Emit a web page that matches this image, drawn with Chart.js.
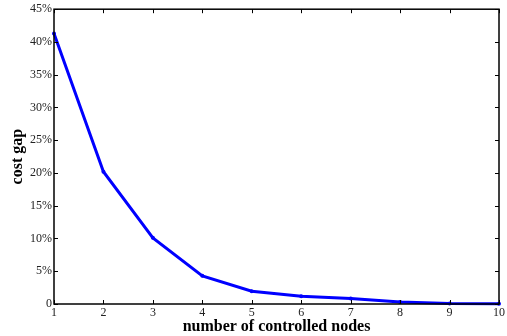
<!DOCTYPE html>
<html>
<head>
<meta charset="utf-8">
<script src="https://cdn.jsdelivr.net/npm/chart.js@4/dist/chart.umd.min.js"></script>
<style>
  html, body { margin: 0; padding: 0; background: #fff; }
  #wrap { width: 507px; height: 336px; }
</style>
</head>
<body>
<div id="wrap"><canvas id="chart" width="507" height="336"></canvas></div>
<script>
// number of controlled nodes
const nodes = [1, 2, 3, 4, 5, 6, 7, 8, 9, 10];
// cost gap in percent
const costGap = [41.3, 20.2, 10.1, 4.3, 1.95, 1.2, 0.85, 0.3, 0.08, 0.05];
const yTicks = [0, 5, 10, 15, 20, 25, 30, 35, 40, 45];

const serif = '"Liberation Serif", "Times New Roman", serif';

// MATLAB-like box with inward ticks on all four sides
const boxTicks = {
  id: 'boxTicks',
  afterDraw(chart) {
    const { ctx, chartArea: a, scales } = chart;
    const len = 4;
    ctx.save();
    ctx.strokeStyle = '#000';
    ctx.lineWidth = 1;
    ctx.beginPath();
    scales.x.ticks.forEach(t => {
      const px = Math.round(scales.x.getPixelForValue(t.value)) + 0.5;
      ctx.moveTo(px, a.bottom); ctx.lineTo(px, a.bottom - len);
      ctx.moveTo(px, a.top); ctx.lineTo(px, a.top + len);
    });
    scales.y.ticks.forEach(t => {
      const py = Math.round(scales.y.getPixelForValue(t.value)) + 0.5;
      ctx.moveTo(a.left, py); ctx.lineTo(a.left + len, py);
      ctx.moveTo(a.right, py); ctx.lineTo(a.right - len, py);
    });
    ctx.stroke();
    ctx.lineWidth = 1.5;
    ctx.strokeRect(a.left, a.top, a.right - a.left, a.bottom - a.top);
    ctx.restore();
  }
};

new Chart(document.getElementById('chart'), {
  type: 'line',
  data: {
    datasets: [{
      data: nodes.map((n, i) => ({ x: n, y: costGap[i] })),
      borderColor: '#0000ff',
      backgroundColor: '#0000ff',
      borderWidth: 3,
      pointRadius: 2,
      pointBorderWidth: 0,
      tension: 0,
      clip: false
    }]
  },
  plugins: [boxTicks],
  options: {
    responsive: false,
    animation: false,
    layout: { padding: { top: 9, right: 6, left: 0, bottom: 0 } },
    plugins: { legend: { display: false }, tooltip: { enabled: false } },
    scales: {
      x: {
        type: 'linear',
        min: 1, max: 10,
        afterBuildTicks: s => { s.ticks = nodes.map(v => ({ value: v })); },
        afterFit: s => { s.height = 32; },
        grid: { display: false, drawTicks: false },
        border: { display: false },
        ticks: { padding: 2, color: '#222', font: { family: serif, size: 12 }, maxRotation: 0 },
        title: {
          display: true,
          text: 'number of controlled nodes',
          color: '#000',
          font: { family: serif, size: 16, weight: 'bold' },
          padding: { top: 0, bottom: 0 }
        }
      },
      y: {
        min: 0, max: 45,
        afterBuildTicks: s => { s.ticks = yTicks.map(v => ({ value: v })); },
        afterFit: s => { s.width = 54; },
        grid: { display: false, drawTicks: false },
        border: { display: false },
        ticks: {
          padding: 2, color: '#222', font: { family: serif, size: 12 },
          callback: v => v === 0 ? '0' : v + '%'
        },
        title: {
          display: true,
          text: 'cost gap',
          color: '#000',
          font: { family: serif, size: 16, weight: 'bold' },
          padding: { top: 8, bottom: 0 }
        }
      }
    }
  }
});
</script>
</body>
</html>
